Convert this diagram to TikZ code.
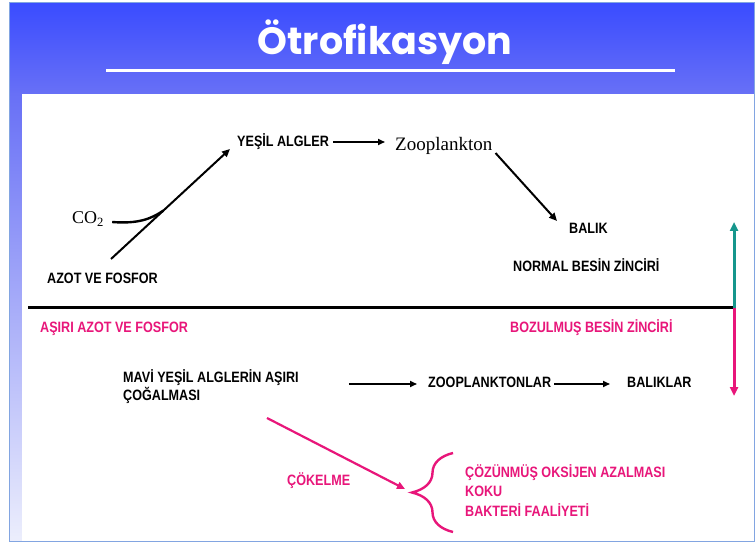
\documentclass[tikz,border=0pt]{standalone}
\usepackage{fontspec}
\setmainfont{Liberation Sans}
\newfontfamily\cond[FakeStretch=0.84]{Liberation Sans}
\newfontfamily\serifa{Liberation Serif}
\newfontfamily\titlef{Poppins}
\usetikzlibrary{arrows.meta,decorations.pathreplacing,calc}
\definecolor{pinkc}{RGB}{232,22,122}
\definecolor{tealc}{RGB}{22,150,140}
\definecolor{blueTop}{RGB}{58,76,255}
\definecolor{blueBot}{RGB}{104,112,246}
\definecolor{stripBot}{RGB}{236,238,252}
\definecolor{framec}{RGB}{130,165,225}
\tikzset{
  lbl/.style={font=\cond\bfseries\fontsize{15}{18}\selectfont, inner sep=0pt, anchor=base west},
  plbl/.style={lbl, text=pinkc},
  serlbl/.style={font=\serifa\fontsize{19}{22}\selectfont, inner sep=0pt, anchor=base west},
  arr/.style={line width=1.6pt, -{Triangle[length=7pt,width=6pt]}},
  darr/.style={line width=2pt, -{Triangle[length=8pt,width=7pt]}},
  varr/.style={line width=3pt, -{Triangle[length=9pt,width=8pt]}},
}
\begin{document}
\begin{tikzpicture}[x=1pt,y=-1pt]
\useasboundingbox (0,0) rectangle (755,545);
\fill[white] (0,0) rectangle (755,545);
% slide background
\shade[top color=blueTop, bottom color=blueBot] (9,3) rectangle (754,94);
\shade[top color=blueBot, bottom color=stripBot] (9,94) rectangle (22,541);
\fill[white] (22,94) rectangle (754,541);
\draw[framec, line width=1pt] (9.5,3) rectangle (754,541.5);
% title
\node[font=\titlef\bfseries\fontsize{38}{44}\selectfont, text=white, anchor=base, inner sep=0pt] (title) at (385,55) {Ötrofikasyon};
\draw[white, line width=3pt] (106,71) -- (675,71);
% normal chain
\node[lbl] (yesil) at (237,147) {YEŞİL ALGLER};
\node[serlbl] (zoo) at (395,151) {Zooplankton};
\node[lbl] (balik) at (569,234) {BALIK};
\node[lbl] (normal) at (513,272) {NORMAL BESİN ZİNCİRİ};
\node[lbl] (azot) at (47,284) {AZOT VE FOSFOR};
\node[font=\serifa\fontsize{18}{22}\selectfont, inner sep=0pt, anchor=base west] (co2) at (72,224) {CO\textsubscript{2}};
\coordinate (dstart) at ([shift={(64,-25)}]azot.base west);
\coordinate (dend) at ([shift={(-7,2)}]yesil.base west);
\coordinate (merge) at ($(dstart)!0.44!(dend)$);
\draw[darr] (dstart) -- (dend);
\draw[line width=2.4pt] ([shift={(8,-2)}]co2.base east) .. controls (138,224) and (151,219) .. (merge);
\draw[arr] ([shift={(4,-5)}]yesil.base east) -- ([shift={(-10,-9)}]zoo.base west);
\draw[darr] ([shift={(3,2)}]zoo.base east) -- ([shift={(-12,-13)}]balik.base west);
% divider
\coordinate (junc) at (734,308);
\coordinate (lineL) at (28,308);
\coordinate (up) at (734,222);
\coordinate (down) at (734,396);
\draw[line width=3pt] (lineL) -- (junc);
\draw[varr, tealc] (junc) -- (up);
\draw[varr, pinkc] (junc) -- (down);
% disturbed chain
\node[plbl] (asiri) at (40,332) {AŞIRI AZOT VE FOSFOR};
\node[plbl] (bozul) at (510,333) {BOZULMUŞ BESİN ZİNCİRİ};
\node[lbl] (mavi) at (123,382) {MAVİ YEŞİL ALGLERİN AŞIRI};
\node[lbl] (cogal) at (123,400) {ÇOĞALMASI};
\node[lbl] (zoopl) at (428,387) {ZOOPLANKTONLAR};
\node[lbl] (baliklar) at (627,387) {BALIKLAR};
\draw[arr] ([shift={(50,2)}]mavi.base east) -- ([shift={(-11,-3)}]zoopl.base west);
\draw[arr] ([shift={(3,-3)}]zoopl.base east) -- ([shift={(-17,-3)}]baliklar.base west);
\node[plbl] (cokelme) at (287,485) {ÇÖKELME};
\node[plbl] (cozun) at (465,477) {ÇÖZÜNMÜŞ OKSİJEN AZALMASI};
\node[plbl] (koku) at (465,496) {KOKU};
\node[plbl] (bakteri) at (465,516) {BAKTERİ FAALİYETİ};
\coordinate (btop) at (453,453);
\coordinate (bbot) at (453,532);
\draw[pinkc, line width=2.4pt, decorate, decoration={brace, amplitude=41pt}] (bbot) -- (btop);
\draw[darr, pinkc, line width=2.2pt] ([shift={(144,18)}]cogal.base west) -- ([shift={(-60,12)}]cozun.base west);
\end{tikzpicture}
\end{document}
